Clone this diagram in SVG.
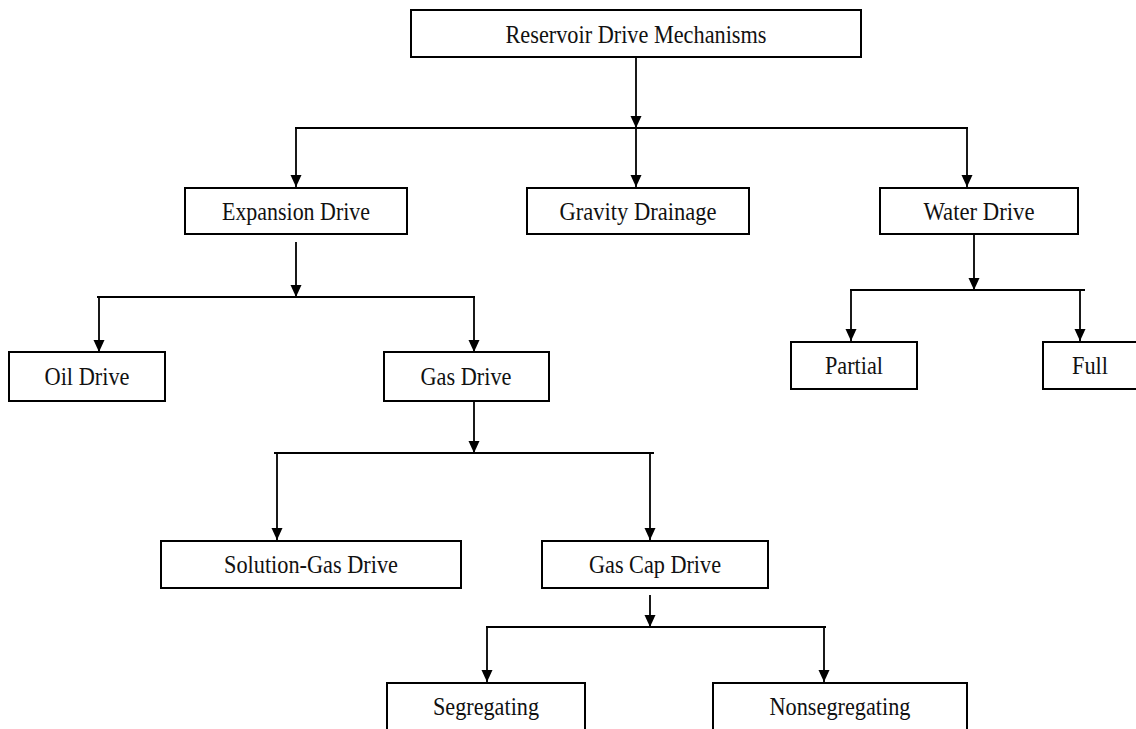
<svg xmlns="http://www.w3.org/2000/svg" width="1136" height="729" viewBox="0 0 1136 729">
  <defs>
    <marker id="arrow" markerUnits="userSpaceOnUse" markerWidth="12" markerHeight="12" refX="12" refY="5.5" orient="auto">
      <path d="M0,0 L12,5.5 L0,11 z" fill="#000"/>
    </marker>
    <style>
      .box { fill: #fff; stroke: #000; stroke-width: 2; }
      .lbl { font-family: "Liberation Serif", "Times New Roman", serif; font-size: 25px; fill: #111; text-anchor: middle; }
      .bus { stroke: #000; stroke-width: 1.8; fill: none; }
      .arr { stroke: #000; stroke-width: 1.8; fill: none; marker-end: url(#arrow); }
    </style>
  </defs>
  <rect width="1136" height="729" fill="#fff"/>

  <!-- connectors -->
  <g id="connectors">
    <!-- root to level 1 -->
    <line class="arr" x1="636" y1="57" x2="636" y2="128"/>
    <line class="bus" x1="295" y1="128" x2="968" y2="128"/>
    <line class="arr" x1="296" y1="128" x2="296" y2="187"/>
    <line class="arr" x1="636" y1="128" x2="636" y2="187"/>
    <line class="arr" x1="967" y1="128" x2="967" y2="187"/>

    <!-- expansion drive branch -->
    <line class="arr" x1="296" y1="242" x2="296" y2="297"/>
    <line class="bus" x1="97" y1="297" x2="475" y2="297"/>
    <line class="arr" x1="99" y1="297" x2="99" y2="352"/>
    <line class="arr" x1="474" y1="297" x2="474" y2="352"/>

    <!-- water drive branch -->
    <line class="arr" x1="974" y1="234" x2="974" y2="290"/>
    <line class="bus" x1="850" y1="290" x2="1085" y2="290"/>
    <line class="arr" x1="851" y1="290" x2="851" y2="341"/>
    <line class="arr" x1="1080" y1="290" x2="1080" y2="341"/>

    <!-- gas drive branch -->
    <line class="arr" x1="474" y1="401" x2="474" y2="453"/>
    <line class="bus" x1="274" y1="453" x2="654" y2="453"/>
    <line class="arr" x1="277" y1="453" x2="277" y2="540"/>
    <line class="arr" x1="650" y1="453" x2="650" y2="540"/>

    <!-- gas cap drive branch -->
    <line class="arr" x1="650" y1="595" x2="650" y2="627"/>
    <line class="bus" x1="486" y1="627" x2="826" y2="627"/>
    <line class="arr" x1="487" y1="627" x2="487" y2="682"/>
    <line class="arr" x1="824" y1="627" x2="824" y2="682"/>
  </g>

  <g id="root">
    <rect class="box" x="411" y="10" width="450" height="47"/>
    <text class="lbl" x="636" y="43" textLength="261" lengthAdjust="spacingAndGlyphs">Reservoir Drive Mechanisms</text>
  </g>

  <g id="expansion-drive">
    <rect class="box" x="185" y="188" width="222" height="46"/>
    <text class="lbl" x="296" y="220" textLength="148" lengthAdjust="spacingAndGlyphs">Expansion Drive</text>
  </g>

  <g id="gravity-drainage">
    <rect class="box" x="527" y="188" width="222" height="46"/>
    <text class="lbl" x="638" y="220" textLength="157" lengthAdjust="spacingAndGlyphs">Gravity  Drainage</text>
  </g>

  <g id="water-drive">
    <rect class="box" x="880" y="188" width="198" height="46"/>
    <text class="lbl" x="979" y="220" textLength="111" lengthAdjust="spacingAndGlyphs">Water Drive</text>
  </g>

  <g id="oil-drive">
    <rect class="box" x="9" y="352" width="156" height="49"/>
    <text class="lbl" x="87" y="385" textLength="85" lengthAdjust="spacingAndGlyphs">Oil Drive</text>
  </g>

  <g id="gas-drive">
    <rect class="box" x="384" y="352" width="165" height="49"/>
    <text class="lbl" x="466" y="385" textLength="91" lengthAdjust="spacingAndGlyphs">Gas Drive</text>
  </g>

  <g id="partial">
    <rect class="box" x="791" y="342" width="126" height="47"/>
    <text class="lbl" x="854" y="374" textLength="58" lengthAdjust="spacingAndGlyphs">Partial</text>
  </g>

  <g id="full">
    <rect class="box" x="1043" y="342" width="100" height="47"/>
    <text class="lbl" x="1090" y="374" textLength="36" lengthAdjust="spacingAndGlyphs">Full</text>
  </g>

  <g id="solution-gas-drive">
    <rect class="box" x="161" y="541" width="300" height="47"/>
    <text class="lbl" x="311" y="573" textLength="174" lengthAdjust="spacingAndGlyphs">Solution-Gas Drive</text>
  </g>

  <g id="gas-cap-drive">
    <rect class="box" x="542" y="541" width="226" height="47"/>
    <text class="lbl" x="655" y="573" textLength="132" lengthAdjust="spacingAndGlyphs">Gas Cap Drive</text>
  </g>

  <g id="segregating">
    <rect class="box" x="387" y="683" width="198" height="60"/>
    <text class="lbl" x="486" y="715" textLength="106" lengthAdjust="spacingAndGlyphs">Segregating</text>
  </g>

  <g id="nonsegregating">
    <rect class="box" x="713" y="683" width="254" height="60"/>
    <text class="lbl" x="840" y="715" textLength="141" lengthAdjust="spacingAndGlyphs">Nonsegregating</text>
  </g>
</svg>
